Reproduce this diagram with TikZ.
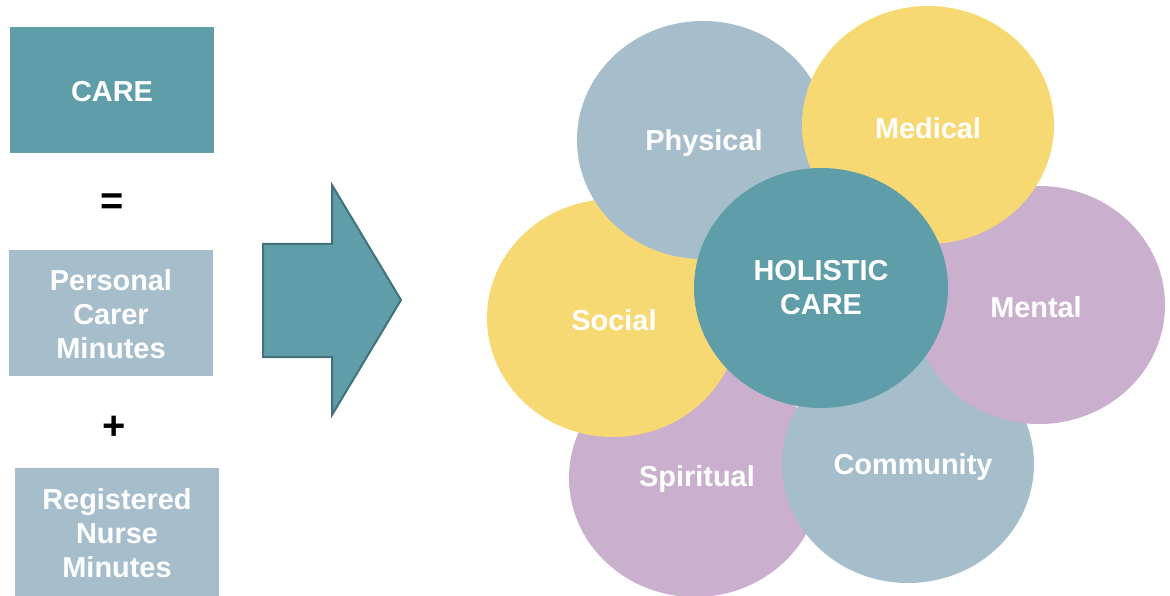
\documentclass[tikz,border=0pt]{standalone}
\usepackage{fontspec}
\setmainfont{Liberation Sans}
\usetikzlibrary{shapes.geometric}
\definecolor{teal}{HTML}{5F9EA9}
\definecolor{slate}{HTML}{A6BECC}
\definecolor{sun}{HTML}{F6D973}
\definecolor{lilac}{HTML}{CAAFCE}
\definecolor{tealedge}{HTML}{41727B}
\begin{document}
\begin{tikzpicture}[x=1bp,y=-1bp,
  label text/.style={text=white,font=\bfseries\fontsize{29}{34}\selectfont,align=center},
  boxnode/.style={rectangle,inner sep=0pt,minimum width=204bp,minimum height=126bp,label text},
  blob/.style={ellipse,inner sep=0pt,minimum width=252bp,minimum height=238bp,label text},
  opsign/.style={text=black,font=\bfseries\fontsize{40}{40}\selectfont}]
\useasboundingbox (0,0) rectangle (1170,596);

% equation column
\node[boxnode,fill=teal] (care) at (112,90.5) {};
\node[label text] (care-t) at (112,92) {CARE};
\node[opsign] (eq) at (112,204) {=};
\node[boxnode,fill=slate] (pcm) at (111,313) {};
\node[label text] (pcm-t) at (111,314) {Personal\\Carer\\Minutes};
\node[opsign] (plus) at (114,428) {+};
\node[boxnode,fill=slate,minimum height=128bp] (rnm) at (117,532) {};
\node[label text] (rnm-t) at (117,533) {Registered\\Nurse\\Minutes};

% block arrow
\draw[fill=teal,draw=tealedge,line width=2bp,line join=miter]
  (263,244) -- (332,244) -- (332,185) -- (401,300) -- (332,415)
  -- (332,357) -- (263,357) -- cycle;

% petals, back to front
\node[blob,fill=lilac] (spiritual) at (695,478) {};
\node[blob,fill=sun] (social) at (613,318) {};
\node[blob,fill=slate] (physical) at (703,140) {};
\node[blob,fill=slate] (community) at (908,464) {};
\node[blob,fill=lilac] (mental) at (1039,305) {};
\node[blob,fill=sun] (medical) at (928,125) {};
\node[blob,fill=teal,minimum width=254bp,minimum height=240bp] (holistic) at (821,288) {};

% petal captions
\node[label text] (t-physical) at (704,143) {Physical};
\node[label text] (t-medical) at (928,128) {Medical};
\node[label text] (t-mental) at (1036,307) {Mental};
\node[label text] (t-community) at (913,467) {Community};
\node[label text] (t-spiritual) at (697,479) {Spiritual};
\node[label text] (t-social) at (614,320) {Social};
\node[label text,text depth=0pt] (t-holistic) at (821,287) {HOLISTIC\\CARE};
\end{tikzpicture}
\end{document}
